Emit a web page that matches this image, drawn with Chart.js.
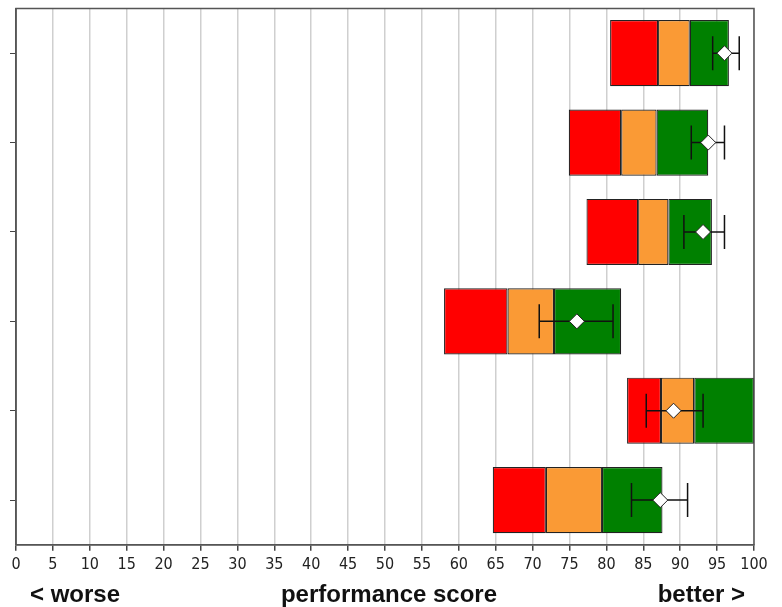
<!DOCTYPE html>
<html>
<head>
<meta charset="utf-8">
<script src="https://cdn.jsdelivr.net/npm/chart.js@4"></script>
<style>
  html, body { margin: 0; padding: 0; background: #fff; }
  #wrap { width: 782px; height: 607px; }
</style>
</head>
<body>
<div id="wrap"><canvas id="scoreChart"></canvas></div>
<script>
// rows top to bottom
const categories = ['Row 1', 'Row 2', 'Row 3', 'Row 4', 'Row 5', 'Row 6'];
const redStart    = [80.5, 74.9, 77.3, 58.0, 82.8, 64.6];
const orangeStart = [87.0, 82.0, 84.3, 66.6, 87.4, 71.8];
const greenStart  = [91.3, 86.8, 88.4, 72.9, 91.9, 79.4];
const greenEnd    = [96.6, 93.8, 94.3, 82.0, 100,  87.6];
const meanScore   = [96.0, 93.8, 93.1, 76.0, 89.1, 87.3];
const errLow      = [94.4, 91.5, 90.5, 70.9, 85.4, 83.4];
const errHigh     = [98.0, 96.0, 96.0, 80.9, 93.1, 91.0];
const xTicks = [0, 100, 5];

const pairs = (a, b) => a.map((v, i) => [v, b[i]]);

const barStyle = {
    type: 'bar',
    grouped: false,
    borderColor: '#222222',
    borderWidth: 1.2,
    borderSkipped: false,
    barPercentage: 0.74,
    categoryPercentage: 1,
    order: 1
};

const errorBars = {
    id: 'errorBars',
    beforeDatasetDraw(chart, args) {
        if (args.index !== 3) return;
        const ctx = chart.ctx;
        const x = chart.scales.x, y = chart.scales.y;
        ctx.save();
        ctx.strokeStyle = '#111';
        ctx.lineWidth = 1.5;
        categories.forEach((c, i) => {
            const yc = y.getPixelForValue(i);
            const x1 = x.getPixelForValue(errLow[i]);
            const x2 = x.getPixelForValue(errHigh[i]);
            ctx.beginPath();
            ctx.moveTo(x1, yc); ctx.lineTo(x2, yc);
            ctx.moveTo(x1, yc - 17); ctx.lineTo(x1, yc + 17);
            ctx.moveTo(x2, yc - 17); ctx.lineTo(x2, yc + 17);
            ctx.stroke();
        });
        ctx.restore();
    }
};

const frameAndLabels = {
    id: 'frameAndLabels',
    afterDraw(chart) {
        const ctx = chart.ctx;
        const a = chart.chartArea;
        ctx.save();
        ctx.strokeStyle = '#555';
        ctx.lineWidth = 1.5;
        ctx.strokeRect(a.left, a.top, a.right - a.left, a.bottom - a.top);
        ctx.fillStyle = '#111';
        ctx.font = 'bold 24px "Liberation Sans", Arial, sans-serif';
        ctx.textBaseline = 'alphabetic';
        const base = 602;
        ctx.textAlign = 'left';
        ctx.fillText('< worse', 30, base);
        ctx.textAlign = 'center';
        ctx.fillText('performance score', 389, base);
        ctx.textAlign = 'right';
        ctx.fillText('better >', 745, base);
        ctx.restore();
    }
};

new Chart(document.getElementById('scoreChart'), {
    data: {
        labels: categories,
        datasets: [
            Object.assign({ label: 'low', data: pairs(redStart, orangeStart), backgroundColor: '#ff0000' }, barStyle),
            Object.assign({ label: 'mid', data: pairs(orangeStart, greenStart), backgroundColor: '#fa9a35' }, barStyle),
            Object.assign({ label: 'high', data: pairs(greenStart, greenEnd), backgroundColor: '#008000' }, barStyle),
            {
                type: 'line',
                label: 'mean',
                indexAxis: 'y',
                order: 0,
                data: meanScore,
                showLine: false,
                pointStyle: 'rectRot',
                pointRadius: 7.5,
                pointBackgroundColor: '#ffffff',
                pointBorderColor: '#222',
                pointBorderWidth: 1
            }
        ]
    },
    options: {
        indexAxis: 'y',
        responsive: true,
        maintainAspectRatio: false,
        animation: false,
        layout: { padding: { left: 10, right: 28, top: 8, bottom: 29 } },
        plugins: {
            legend: { display: false },
            tooltip: { enabled: false }
        },
        scales: {
            x: {
                min: xTicks[0],
                max: xTicks[1],
                ticks: {
                    stepSize: xTicks[2],
                    autoSkip: false,
                    maxRotation: 0,
                    color: '#222',
                    padding: 4,
                    font: { family: '"Liberation Sans Narrow", "DejaVu Sans Condensed", sans-serif', size: 16 }
                },
                grid: { color: '#cfcfcf', lineWidth: 1.5, tickColor: '#444', tickLength: 6 },
                border: { color: '#555', width: 1.5 }
            },
            y: {
                offset: true,
                ticks: { display: false },
                grid: { offset: false, drawOnChartArea: false, tickColor: '#444', tickLength: 6 },
                border: { color: '#555', width: 1.5 }
            }
        }
    },
    plugins: [errorBars, frameAndLabels]
});
</script>
</body>
</html>
